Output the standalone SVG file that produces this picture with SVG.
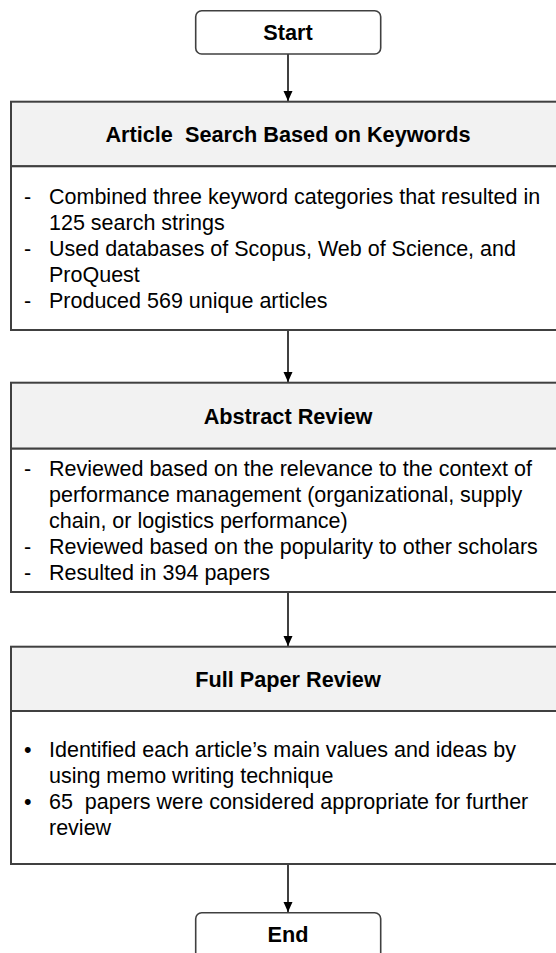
<svg xmlns="http://www.w3.org/2000/svg" width="556" height="953" viewBox="0 0 556 953">
  <style>
    .term { fill: #ffffff; stroke: #404040; stroke-width: 1.6; }
    .box { fill: #ffffff; stroke: #404040; stroke-width: 2; }
    .head { fill: #f2f2f2; stroke: #404040; stroke-width: 2; }
    .t { font-family: "Liberation Sans", Arial, sans-serif; font-size: 21.5px; fill: #000000; }
    .b { font-family: "Liberation Sans", Arial, sans-serif; font-size: 21.7px; font-weight: bold; fill: #000000; text-anchor: middle; }
    .conn { stroke: #404040; stroke-width: 2; fill: none; }
  </style>
  <defs>
    <marker id="arr" markerUnits="userSpaceOnUse" markerWidth="10" markerHeight="11" refX="10" refY="5" orient="auto">
      <path d="M0,0.5 L10,5 L0,9.5 Z" fill="#000000"/>
    </marker>
  </defs>
  <rect width="556" height="953" fill="#ffffff"/>

  <g id="start">
    <rect class="term" x="195.7" y="10.7" width="185" height="43.3" rx="6"/>
    <text class="b" x="288" y="40">Start</text>
  </g>

  <g id="search">
    <rect class="head" x="11" y="101.7" width="560" height="64.6"/>
    <rect class="box" x="11" y="166.3" width="560" height="163.7"/>
    <text class="b" x="288" y="142" style="white-space:pre">Article  Search Based on Keywords</text>
    <text class="t" x="24" y="204">-</text>
    <text class="t" x="49" y="204">Combined three keyword categories that resulted in</text>
    <text class="t" x="49" y="230">125 search strings</text>
    <text class="t" x="24" y="256">-</text>
    <text class="t" x="49" y="256">Used databases of Scopus, Web of Science, and</text>
    <text class="t" x="49" y="282">ProQuest</text>
    <text class="t" x="24" y="308">-</text>
    <text class="t" x="49" y="308">Produced 569 unique articles</text>
  </g>

  <g id="abstract">
    <rect class="head" x="11" y="382.7" width="560" height="66"/>
    <rect class="box" x="11" y="448.7" width="560" height="143.3"/>
    <text class="b" x="288" y="424">Abstract Review</text>
    <text class="t" x="24" y="476">-</text>
    <text class="t" x="49" y="476">Reviewed based on the relevance to the context of</text>
    <text class="t" x="49" y="502">performance management (organizational, supply</text>
    <text class="t" x="49" y="528">chain, or logistics performance)</text>
    <text class="t" x="24" y="554">-</text>
    <text class="t" x="49" y="554">Reviewed based on the popularity to other scholars</text>
    <text class="t" x="24" y="580">-</text>
    <text class="t" x="49" y="580">Resulted in 394 papers</text>
  </g>

  <g id="fullpaper">
    <rect class="head" x="11" y="646.7" width="560" height="64.3"/>
    <rect class="box" x="11" y="711" width="560" height="153"/>
    <text class="b" x="288" y="687">Full Paper Review</text>
    <text class="t" x="24" y="757">•</text>
    <text class="t" x="49" y="757">Identified each article’s main values and ideas by</text>
    <text class="t" x="49" y="783">using memo writing technique</text>
    <text class="t" x="24" y="809">•</text>
    <text class="t" x="49" y="809" style="white-space:pre">65  papers were considered appropriate for further</text>
    <text class="t" x="49" y="835">review</text>
  </g>

  <g id="end">
    <rect class="term" x="195.7" y="912.7" width="185" height="60" rx="6"/>
    <text class="b" x="288" y="942">End</text>
  </g>

  <g id="connectors">
    <line class="conn" x1="288" y1="54" x2="288" y2="101" marker-end="url(#arr)"/>
    <line class="conn" x1="288" y1="330" x2="288" y2="382" marker-end="url(#arr)"/>
    <line class="conn" x1="288" y1="592" x2="288" y2="646" marker-end="url(#arr)"/>
    <line class="conn" x1="288" y1="864" x2="288" y2="912" marker-end="url(#arr)"/>
  </g>
</svg>
